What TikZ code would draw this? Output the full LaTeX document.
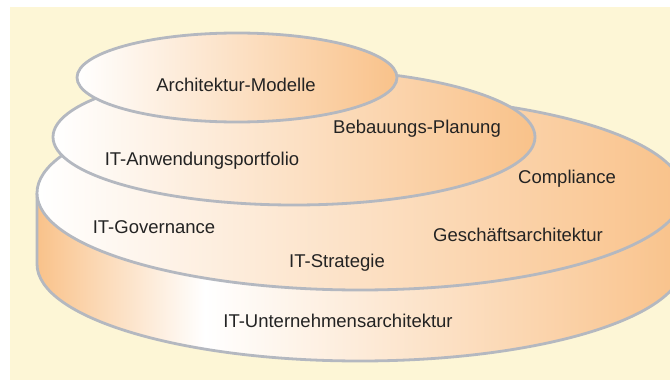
\documentclass[tikz,border=0pt]{standalone}
\usepackage{fontspec}
\setmainfont{Liberation Sans}

\definecolor{paper}{RGB}{253,246,214}
\definecolor{peach}{RGB}{249,194,138}
\definecolor{rim}{RGB}{180,184,192}
\definecolor{ink}{RGB}{35,35,35}

\pgfdeclarehorizontalshading{sidefade}{100bp}{color(0bp)=(peach); color(25bp)=(peach); color(38bp)=(white); color(75bp)=(peach); color(100bp)=(peach)}

\tikzset{
  layer/.style={draw=rim, line width=2.8pt, left color=white, right color=peach},
  lbl/.style={anchor=base, text=ink, font=\fontsize{18.5}{22}\selectfont}
}

\begin{document}
\begin{tikzpicture}[x=1pt,y=-1pt]

    \useasboundingbox (0,0) rectangle (670,380);
    \fill[paper] (10,7) rectangle (670,380);

    \begin{scope}
    \clip (10,7) rectangle (670,380);
    % side of the bottom disc
    \path[shading=sidefade] (37,193) -- (37,264) arc[start angle=180, end angle=0, x radius=323, y radius=97]
        -- (683,193) arc[start angle=0, end angle=180, x radius=323, y radius=97] -- cycle;
    \draw[rim, line width=2.8pt] (37,193) -- (37,264) arc[start angle=180, end angle=0, x radius=323, y radius=97] -- (683,193);
    % the three layers
    \draw[layer] (360,193) ellipse [x radius=323, y radius=97];
    \draw[layer] (294,137) ellipse [x radius=241, y radius=68];
    \draw[layer] (237,77.5) ellipse [x radius=160, y radius=44.5];
    \end{scope}

    \node[lbl] (1) at (236,91) {Architektur-Modelle};
    \node[lbl] (2) at (417,133) {Bebauungs-Planung};
    \node[lbl] (3) at (202,165) {IT-Anwendungsportfolio};
    \node[lbl] (4) at (567,183) {Compliance};
    \node[lbl] (5) at (154,233) {IT-Governance};
    \node[lbl] (6) at (518,241) {Geschäftsarchitektur};
    \node[lbl] (7) at (337,267) {IT-Strategie};
    \node[lbl] (8) at (338,327) {IT-Unternehmensarchitektur};

\end{tikzpicture}
\end{document}
